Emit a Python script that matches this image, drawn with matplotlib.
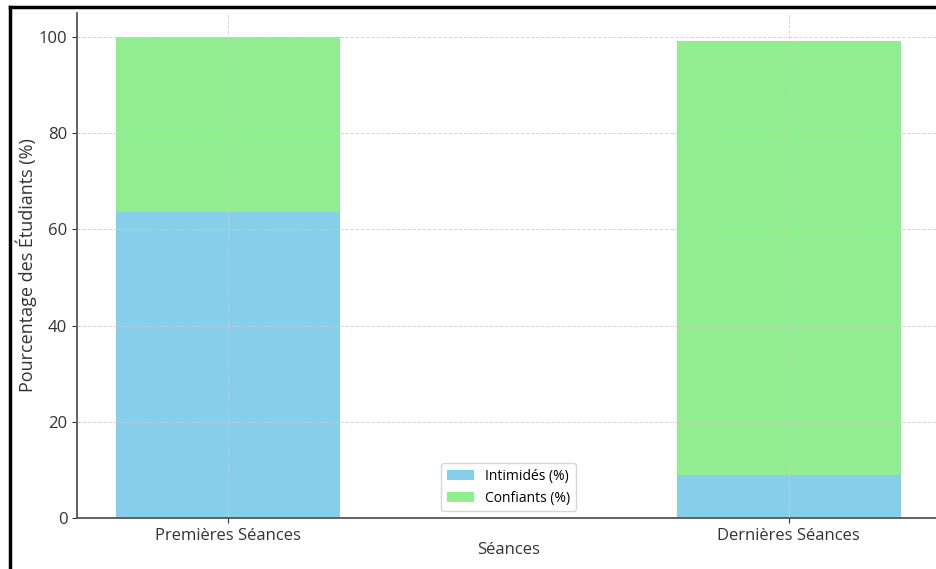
import matplotlib.pyplot as plt
from matplotlib.lines import Line2D

plt.rcParams['font.family'] = ['Open Sans', 'DejaVu Sans']

seances = ['Premières Séances', 'Dernières Séances']
intimides = [63.6, 9.0]
confiants = [36.4, 90.2]

fig = plt.figure(figsize=(9.36, 5.69), dpi=100)
ax = fig.add_axes([0.0823, 0.0896, 0.922, 0.8875])

ax.bar(seances, intimides, width=0.4, color='skyblue', label='Intimidés (%)')
ax.bar(seances, confiants, width=0.4, bottom=intimides, color='lightgreen', label='Confiants (%)')

ax.set_ylim(0, 105)
ax.set_xlabel('Séances', fontsize=12, color='#333333')
ax.set_ylabel('Pourcentage des Étudiants (%)', fontsize=13, color='#333333')
ax.xaxis.set_label_coords(0.5, -0.048)
ax.yaxis.set_label_coords(-0.046, 0.5)
ax.tick_params(labelsize=12, colors='#333333')
ax.grid(True, linestyle='--', color='#cccccc', linewidth=0.7, alpha=0.8)
for s in ['top', 'right']:
    ax.spines[s].set_visible(False)
for s in ['left', 'bottom']:
    ax.spines[s].set_color('#555555')
    ax.spines[s].set_linewidth(1.3)

ax.legend(loc='lower center', fontsize=10)

# black screenshot frame
fig.add_artist(Line2D([0.0107, 0.0107], [0, 0.9885], color='black', lw=2.5, transform=fig.transFigure))
fig.add_artist(Line2D([0.0107, 1], [0.9885, 0.9885], color='black', lw=2.5, transform=fig.transFigure))

fig.savefig('out.png', dpi=100)
